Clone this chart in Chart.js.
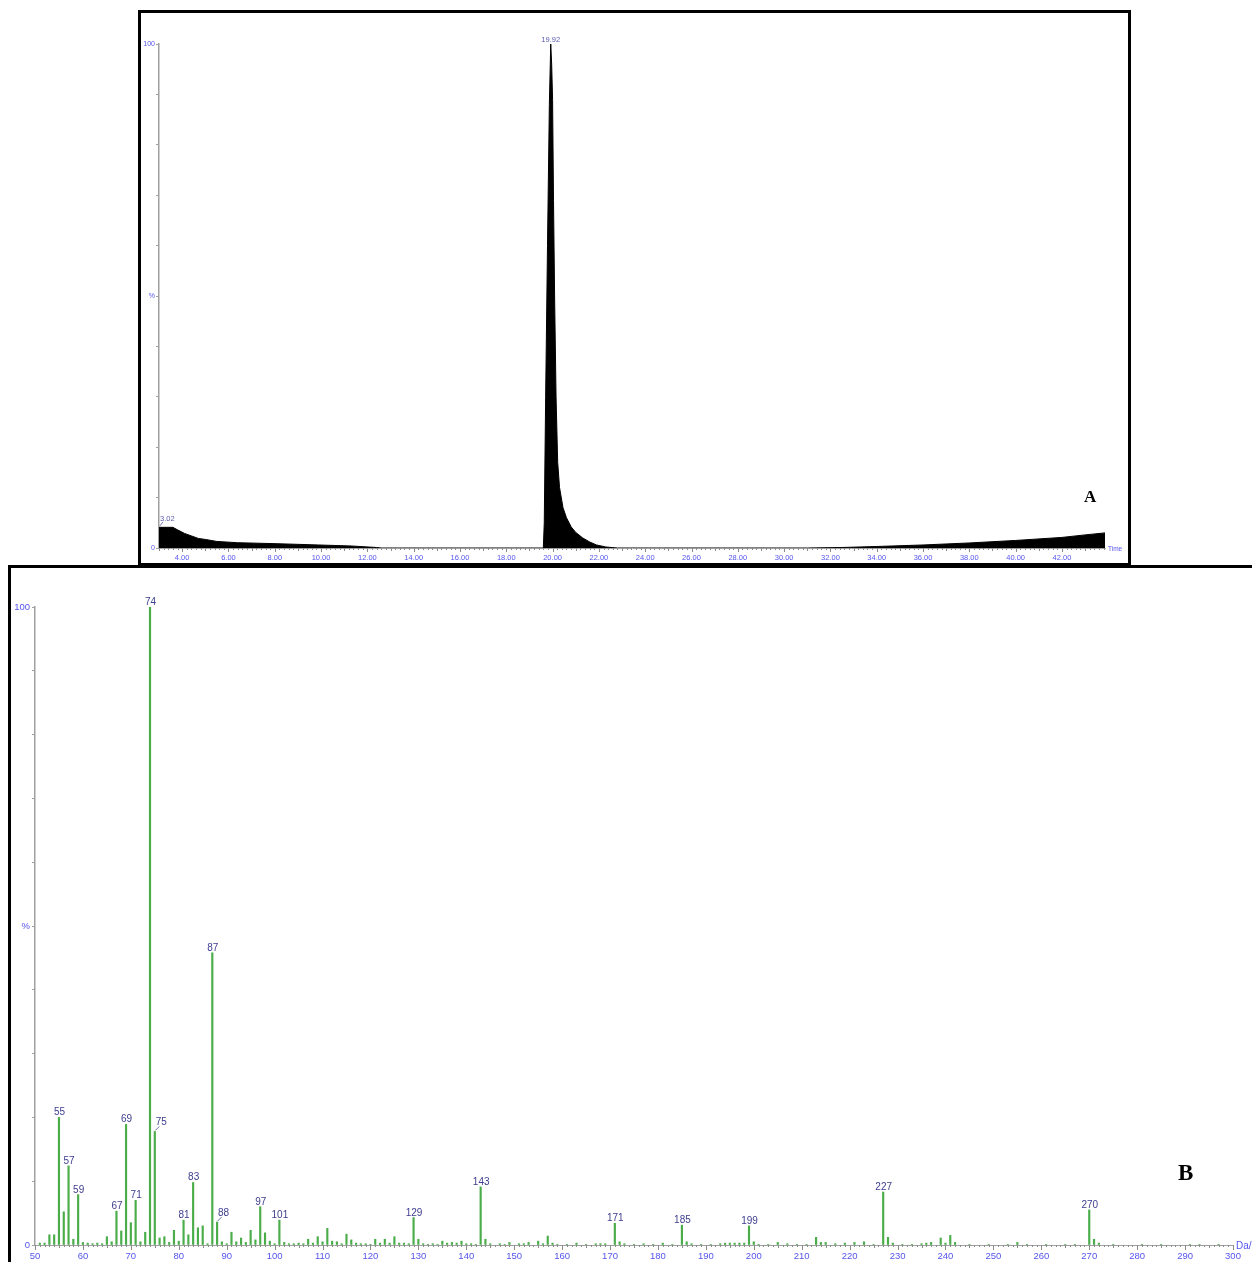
<!DOCTYPE html>
<html>
<head>
<meta charset="utf-8">
<script src="https://cdn.jsdelivr.net/npm/chart.js@4.4.0/dist/chart.umd.min.js"></script>
<style>
html,body{margin:0;padding:0;background:#fff;}
body{width:1252px;height:1262px;position:relative;overflow:hidden;}
canvas{position:absolute;left:0;top:0;}
.box{position:absolute;border:3px solid #000;box-sizing:border-box;}
.tag{position:absolute;font-family:"Liberation Serif","Times New Roman",serif;font-weight:bold;color:#000;line-height:1;}
</style>
</head>
<body>
<div class="box" style="left:138px;top:10px;width:993px;height:556px"></div>
<div class="box" style="left:8px;top:565px;width:1270px;height:720px"></div>
<canvas id="chartA" width="1252" height="1262"></canvas>
<canvas id="chartB" width="1252" height="1262"></canvas>
<div class="tag" style="left:1084px;top:488px;font-size:17px">A</div>
<div class="tag" style="left:1178px;top:1161px;font-size:23px">B</div>
<script>
// ---------- Panel A: chromatogram (time in min, relative intensity %) ----------
const chromTime = [3.00, 3.60, 3.80, 4.10, 4.40, 4.70, 5.00, 5.50, 6.40, 8.10, 9.90, 11.30, 12.40, 12.60,
  19.60, 19.64, 19.70, 19.78, 19.86, 19.92, 19.96, 20.00, 20.04, 20.09, 20.15, 20.22, 20.30, 20.45, 20.60, 20.80,
  21.00, 21.30, 21.60, 21.90, 22.30, 22.80,
  31.00, 32.50, 34.00, 36.00, 38.00, 40.00, 42.00, 43.00, 43.86];
const chromIntensity = [4.1, 4.1, 3.6, 2.9, 2.4, 1.9, 1.7, 1.3, 1.05, 0.85, 0.6, 0.4, 0.1, 0,
  0, 5, 30, 60, 88, 100, 96, 89, 69, 49, 30, 17, 12, 8, 6, 4.2,
  3.1, 2.0, 1.2, 0.6, 0.2, 0,
  0, 0.1, 0.3, 0.6, 1.0, 1.5, 2.1, 2.6, 3.0];
const chromTickValues = [4, 6, 8, 10, 12, 14, 16, 18, 20, 22, 24, 26, 28, 30, 32, 34, 36, 38, 40, 42];
const chromPeakTimes = [3.02, 19.92];
const chromPeakHeights = [4.1, 100];
const chromPeakLabels = ['3.02', '19.92'];

// ---------- Panel B: mass spectrum (m/z, relative abundance %) ----------
const specMz = [51,52,53,54,55,56,57,58,59,60,61,62,63,64,65,66,67,68,69,70,71,72,73,74,75,76,77,78,79,80,
  81,82,83,84,85,86,87,88,89,90,91,92,93,94,95,96,97,98,99,100,101,102,103,104,105,106,107,108,109,110,
  111,112,113,114,115,116,117,118,119,120,121,122,123,124,125,126,127,128,129,130,131,132,133,134,135,136,137,138,139,140,
  141,142,143,144,145,147,148,149,151,152,153,155,156,157,158,159,161,163,165,167,168,169,171,172,173,175,177,179,181,183,
  185,186,187,189,191,193,194,195,196,197,198,199,200,201,203,205,207,209,211,213,214,215,217,219,221,223,225,227,228,229,
  231,233,235,236,237,239,240,241,242,245,249,253,255,257,261,265,267,270,271,272,275,281,285,291,293,297];
const specIntensity = [0.3,0.3,1.6,1.6,20.0,5.2,12.4,0.9,7.9,0.4,0.3,0.2,0.3,0.2,1.3,0.5,5.3,2.2,18.9,3.5,7.0,0.5,2.0,100,17.8,1.1,1.3,0.4,2.3,0.6,
  3.9,1.6,9.8,2.7,3.0,0.2,45.8,3.6,0.5,0.2,2.0,0.5,1.1,0.4,2.3,0.8,6.0,1.9,0.6,0.2,3.9,0.4,0.2,0.2,0.3,0.2,0.9,0.3,1.3,0.5,
  2.6,0.6,0.5,0.2,1.7,0.8,0.3,0.2,0.2,0.1,0.9,0.3,0.9,0.3,1.3,0.3,0.3,0.2,4.3,0.9,0.2,0.1,0.2,0.1,0.6,0.3,0.4,0.3,0.6,0.2,
  0.2,0.1,9.1,0.9,0.2,0.2,0.1,0.4,0.2,0.2,0.4,0.6,0.2,1.4,0.3,0.1,0.1,0.3,0.1,0.2,0.2,0.2,3.4,0.5,0.2,0.1,0.2,0.1,0.3,0.1,
  3.1,0.5,0.2,0.1,0.1,0.2,0.3,0.3,0.3,0.3,0.3,3.0,0.5,0.1,0.1,0.4,0.2,0.1,0.1,1.2,0.4,0.4,0.2,0.3,0.4,0.5,0.1,8.3,1.2,0.3,
  0.1,0.1,0.2,0.3,0.4,1.1,0.3,1.5,0.4,0.1,0.1,0.1,0.4,0.1,0.1,0.1,0.1,5.5,0.9,0.3,0.1,0.1,0.1,0.1,0.1,0.1];
const specTickValues = [50,60,70,80,90,100,110,120,130,140,150,160,170,180,190,200,210,220,230,240,250,260,270,280,290,300];
const specLabelledMz = [55,57,59,67,69,71,74,75,81,83,87,88,97,101,129,143,171,185,199,227,270];
const specLeaderMz = [75, 88];

// shared y ticks
const yTickValues = [0,10,20,30,40,50,60,70,80,90,100];
const yTickLabels = {0:'0', 50:'%', 100:'100'};

const FONT = '"Liberation Sans", Arial, sans-serif';
const TICK_BLUE = '#5555ee';
const LABEL_BLUE = '#3d3d8f';
const AXIS_GRAY = '#a0a0a0';

const minorTicks = {
  id: 'minorTicks',
  afterDraw(chart, args, o) {
    const xs = chart.scales.x, ctx = chart.ctx;
    ctx.save();
    ctx.strokeStyle = o.color; ctx.lineWidth = 1;
    for (let i = 0; ; i++) {
      const v = o.start + i * o.step;
      if (v > xs.max + 1e-9) break;
      const len = o.len(v);
      const px = Math.round(xs.getPixelForValue(v)) + 0.5;
      ctx.beginPath(); ctx.moveTo(px, xs.top); ctx.lineTo(px, xs.top + len); ctx.stroke();
    }
    if (o.unit) {
      ctx.fillStyle = TICK_BLUE; ctx.font = o.unitFont; ctx.textBaseline = 'middle'; ctx.textAlign = 'left';
      ctx.fillText(o.unit, xs.right + o.unitGap, xs.top + o.unitDy);
    }
    ctx.restore();
  }
};

const chromLabels = {
  id: 'chromLabels',
  afterDatasetsDraw(chart) {
    const xs = chart.scales.x, ys = chart.scales.y, ctx = chart.ctx;
    ctx.save();
    ctx.font = '7.5px ' + FONT; ctx.fillStyle = '#5a5ab0'; ctx.strokeStyle = '#7a7ab8'; ctx.lineWidth = 1;
    chromPeakTimes.forEach((t, i) => {
      const x = xs.getPixelForValue(t), y = ys.getPixelForValue(chromPeakHeights[i]);
      if (i === 0) {
        ctx.beginPath(); ctx.moveTo(x + 0.5, y - 1.5); ctx.lineTo(x + 3.5, y - 5.5); ctx.stroke();
        ctx.textAlign = 'left'; ctx.textBaseline = 'alphabetic';
        ctx.fillText(chromPeakLabels[i], x + 0.5, y - 6);
      } else {
        ctx.textAlign = 'center'; ctx.textBaseline = 'alphabetic';
        ctx.fillText(chromPeakLabels[i], x, y - 2);
      }
    });
    ctx.restore();
  }
};

const specLabels = {
  id: 'specLabels',
  afterDatasetsDraw(chart) {
    const xs = chart.scales.x, ys = chart.scales.y, ctx = chart.ctx;
    ctx.save();
    ctx.font = '10px ' + FONT; ctx.fillStyle = LABEL_BLUE; ctx.strokeStyle = '#6a6aa8'; ctx.lineWidth = 1;
    ctx.textAlign = 'center'; ctx.textBaseline = 'alphabetic';
    specLabelledMz.forEach(m => {
      const idx = specMz.indexOf(m);
      const x = xs.getPixelForValue(m), y = ys.getPixelForValue(specIntensity[idx]);
      if (specLeaderMz.includes(m)) {
        ctx.beginPath(); ctx.moveTo(x + 0.5, y - 1); ctx.lineTo(x + 4.5, y - 5); ctx.stroke();
        ctx.fillText(String(m), x + 6.5, y - 6);
      } else {
        ctx.fillText(String(m), x + 0.5, y - 2);
      }
    });
    ctx.restore();
  }
};

// ---------- Chart A ----------
new Chart(document.getElementById('chartA'), {
  type: 'line',
  data: { datasets: [{
    data: chromTime.map((t, i) => ({x: t, y: chromIntensity[i]})),
    borderColor: '#000', backgroundColor: '#000', borderWidth: 1,
    fill: 'origin', pointRadius: 0, tension: 0
  }]},
  options: {
    responsive: false, animation: false, devicePixelRatio: 1,
    layout: { padding: { left: 129, top: 44, right: 147, bottom: 694 } },
    plugins: {
      legend: { display: false }, tooltip: { enabled: false },
      minorTicks: { start: 3.0, step: 0.2, color: '#8c8c8c',
        len: v => { const r = Math.round(v); if (Math.abs(v - r) < 1e-6) return r % 2 === 0 ? 4 : 3; return 2; },
        unit: 'Time', unitFont: '6.5px ' + FONT, unitGap: 3, unitDy: 1 }
    },
    scales: {
      x: {
        type: 'linear', min: 3.0, max: 43.86,
        afterBuildTicks: s => { s.ticks = chromTickValues.map(v => ({value: v})); },
        afterFit: s => { s.height = 20; },
        grid: { drawOnChartArea: false, drawTicks: false },
        border: { color: AXIS_GRAY, width: 1 },
        ticks: { autoSkip: false, maxRotation: 0, padding: 5, color: TICK_BLUE,
          font: { family: FONT, size: 7.5 }, callback: v => Number(v).toFixed(2) }
      },
      y: {
        type: 'linear', min: 0, max: 100,
        afterBuildTicks: s => { s.ticks = yTickValues.map(v => ({value: v})); },
        afterFit: s => { s.width = 30; },
        grid: { drawOnChartArea: false, drawTicks: true, tickLength: 3, tickColor: AXIS_GRAY },
        border: { color: AXIS_GRAY, width: 1.5 },
        ticks: { autoSkip: false, padding: 1, color: TICK_BLUE,
          font: { family: FONT, size: 7 }, callback: v => (yTickLabels[v] !== undefined ? yTickLabels[v] : '') }
      }
    }
  },
  plugins: [minorTicks, chromLabels]
});

// ---------- Chart B ----------
new Chart(document.getElementById('chartB'), {
  type: 'bar',
  data: { datasets: [{
    data: specMz.map((m, i) => ({x: m, y: specIntensity[i]})),
    backgroundColor: '#4aad4a', borderWidth: 0, barThickness: 1.5
  }]},
  options: {
    responsive: false, animation: false, devicePixelRatio: 1,
    layout: { padding: { left: 5, top: 607, right: 19, bottom: 0 } },
    plugins: {
      legend: { display: false }, tooltip: { enabled: false },
      minorTicks: { start: 50, step: 1, color: '#8c8c8c',
        len: v => (v % 10 === 0 ? 5 : (v % 5 === 0 ? 3 : 2)),
        unit: 'Da/', unitFont: '10px ' + FONT, unitGap: 3, unitDy: 1 }
    },
    scales: {
      x: {
        type: 'linear', min: 50, max: 300, offset: false,
        afterBuildTicks: s => { s.ticks = specTickValues.map(v => ({value: v})); },
        afterFit: s => { s.height = 17; },
        grid: { offset: false, drawOnChartArea: false, drawTicks: false },
        border: { color: AXIS_GRAY, width: 1 },
        ticks: { autoSkip: false, maxRotation: 0, padding: 6, color: TICK_BLUE,
          font: { family: FONT, size: 9.5 }, callback: v => String(v) }
      },
      y: {
        type: 'linear', min: 0, max: 100,
        afterBuildTicks: s => { s.ticks = yTickValues.map(v => ({value: v})); },
        afterFit: s => { s.width = 30; },
        grid: { drawOnChartArea: false, drawTicks: true, tickLength: 3, tickColor: AXIS_GRAY },
        border: { color: AXIS_GRAY, width: 1.5 },
        ticks: { autoSkip: false, padding: 2, color: TICK_BLUE,
          font: { family: FONT, size: 9.5 }, callback: v => (yTickLabels[v] !== undefined ? yTickLabels[v] : '') }
      }
    }
  },
  plugins: [minorTicks, specLabels]
});
</script>
</body>
</html>
